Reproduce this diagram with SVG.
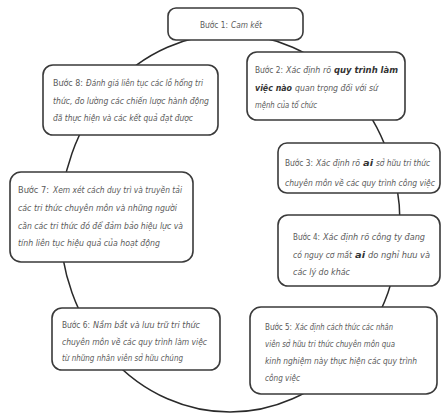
<svg xmlns="http://www.w3.org/2000/svg" width="442" height="415" viewBox="0 0 442 415">
<style>
.box{fill:#fff;stroke:#3a3a3a;stroke-width:1.6}
.conn{fill:none;stroke:#2a2a2a;stroke-width:1.5}
text{font-family:"Liberation Sans Narrow","DejaVu Sans Condensed","Liberation Sans",sans-serif;font-stretch:condensed;font-size:8.7px;fill:#5a5a5a;font-style:italic}
.n{font-style:normal}
.b{font-weight:bold;fill:#333}
</style>
<rect width="442" height="415" fill="#fff"/>
<g id="connectors">
<ellipse class="conn" cx="230" cy="223" rx="170" ry="189"/>
</g>
<g id="step1">
<rect class="box" x="168" y="8" width="135" height="32" rx="8"/>
<text class="n" x="200" y="28" textLength="28" lengthAdjust="spacingAndGlyphs">Bước 1:</text>
<text x="231" y="28" textLength="31" lengthAdjust="spacingAndGlyphs">Cam kết</text>
</g>
<g id="step2">
<rect class="box" x="247" y="52" width="158" height="68" rx="10"/>
<text class="n" x="255" y="73" textLength="28" lengthAdjust="spacingAndGlyphs">Bước 2:</text>
<text x="286" y="73" textLength="45" lengthAdjust="spacingAndGlyphs">Xác định rõ</text>
<text class="b" x="334" y="73" textLength="64" lengthAdjust="spacingAndGlyphs">quy trình làm</text>
<text class="b" x="255" y="91" textLength="37" lengthAdjust="spacingAndGlyphs">việc nào</text>
<text x="295" y="91" textLength="83" lengthAdjust="spacingAndGlyphs">quan trọng đối với sứ</text>
<text x="255" y="108" textLength="62" lengthAdjust="spacingAndGlyphs">mệnh của tổ chức</text>
</g>
<g id="step3">
<rect class="box" x="278" y="143" width="162" height="50" rx="9"/>
<text class="n" x="285" y="166" textLength="28" lengthAdjust="spacingAndGlyphs">Bước 3:</text>
<text x="316" y="166" textLength="44" lengthAdjust="spacingAndGlyphs">Xác định rõ</text>
<text class="b" x="363" y="166" textLength="10" lengthAdjust="spacingAndGlyphs">ai</text>
<text x="376" y="166" textLength="54" lengthAdjust="spacingAndGlyphs">sở hữu tri thức</text>
<text x="285" y="186" textLength="150" lengthAdjust="spacingAndGlyphs">chuyên môn về các quy trình công việc</text>
</g>
<g id="step4">
<rect class="box" x="278" y="215" width="162" height="71" rx="10"/>
<text class="n" x="293" y="240" textLength="27" lengthAdjust="spacingAndGlyphs">Bước 4:</text>
<text x="323" y="240" textLength="102" lengthAdjust="spacingAndGlyphs">Xác định rõ công ty đang</text>
<text x="293" y="258" textLength="59" lengthAdjust="spacingAndGlyphs">có nguy cơ mất</text>
<text class="b" x="355" y="258" textLength="10" lengthAdjust="spacingAndGlyphs">ai</text>
<text x="368" y="258" textLength="62" lengthAdjust="spacingAndGlyphs">do nghỉ hưu và</text>
<text x="293" y="275" textLength="57" lengthAdjust="spacingAndGlyphs">các lý do khác</text>
</g>
<g id="step5">
<rect class="box" x="250" y="307" width="187" height="87" rx="11"/>
<text class="n" x="265" y="330" textLength="27" lengthAdjust="spacingAndGlyphs">Bước 5:</text>
<text x="295" y="330" textLength="98" lengthAdjust="spacingAndGlyphs">Xác định cách thức các nhân</text>
<text x="265" y="347" textLength="130" lengthAdjust="spacingAndGlyphs">viên sở hữu tri thức chuyên môn qua</text>
<text x="265" y="364" textLength="152" lengthAdjust="spacingAndGlyphs">kinh nghiệm này thực hiện các quy trình</text>
<text x="265" y="381" textLength="35" lengthAdjust="spacingAndGlyphs">công việc</text>
</g>
<g id="step6">
<rect class="box" x="52" y="308" width="168" height="62" rx="10"/>
<text class="n" x="62" y="328" textLength="28" lengthAdjust="spacingAndGlyphs">Bước 6:</text>
<text x="93" y="328" textLength="107" lengthAdjust="spacingAndGlyphs">Nắm bắt và lưu trữ tri thức</text>
<text x="62" y="345" textLength="145" lengthAdjust="spacingAndGlyphs">chuyên môn về các quy trình làm việc</text>
<text x="62" y="361" textLength="121" lengthAdjust="spacingAndGlyphs">từ những nhân viên sở hữu chúng</text>
</g>
<g id="step7">
<rect class="box" x="10" y="172" width="183" height="90" rx="11"/>
<text class="n" x="18" y="193" textLength="31" lengthAdjust="spacingAndGlyphs">Bước 7:</text>
<text x="53" y="193" textLength="129" lengthAdjust="spacingAndGlyphs">Xem xét cách duy trì và truyền tải</text>
<text x="18" y="211" textLength="159" lengthAdjust="spacingAndGlyphs">các tri thức chuyên môn và những người</text>
<text x="18" y="229" textLength="165" lengthAdjust="spacingAndGlyphs">cần các tri thức đó để đảm bảo hiệu lực và</text>
<text x="18" y="246" textLength="142" lengthAdjust="spacingAndGlyphs">tính liên tục hiệu quả của hoạt động</text>
</g>
<g id="step8">
<rect class="box" x="43" y="65" width="175" height="70" rx="10"/>
<text class="n" x="53" y="86" textLength="30" lengthAdjust="spacingAndGlyphs">Bước 8:</text>
<text x="86" y="86" textLength="117" lengthAdjust="spacingAndGlyphs">Đánh giá liên tục các lỗ hổng tri</text>
<text x="53" y="104" textLength="156" lengthAdjust="spacingAndGlyphs">thức, đo lường các chiến lược hành động</text>
<text x="53" y="121" textLength="140" lengthAdjust="spacingAndGlyphs">đã thực hiện và các kết quả đạt được</text>
</g>
</svg>
